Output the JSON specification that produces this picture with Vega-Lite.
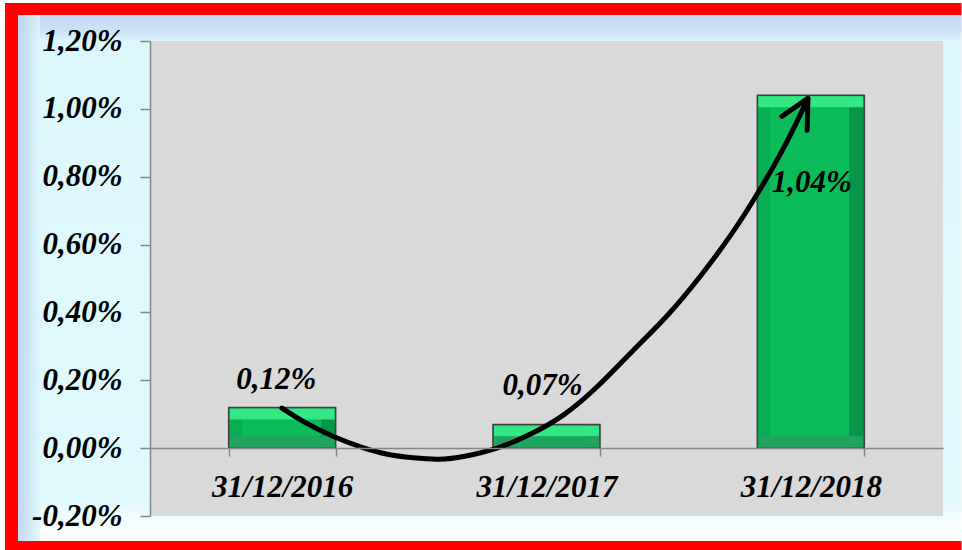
{
  "$schema": "https://vega.github.io/schema/vega-lite/v6.json",
  "width": 793,
  "height": 475,
  "autosize": {"type": "none"},
  "padding": {"left": 150, "top": 41, "right": 19, "bottom": 34},
  "background": "#ffffff",
  "config": {
    "view": {"stroke": null, "fill": null},
    "axis": {
      "labelFont": "Liberation Serif",
      "labelFontSize": 31,
      "labelFontWeight": "bold",
      "labelFontStyle": "italic",
      "labelColor": "#000000",
      "domainColor": "#868686",
      "tickColor": "#868686",
      "domainWidth": 1.5,
      "tickWidth": 1.5,
      "grid": false
    },
    "text": {"font": "Liberation Serif", "fontSize": 31, "fontWeight": "bold", "fontStyle": "italic", "color": "#000000"}
  },
  "datasets": {
    "bars": [
      {"date": "31/12/2016", "v": 0.12, "label": "0,12%"},
      {"date": "31/12/2017", "v": 0.07, "label": "0,07%"},
      {"date": "31/12/2018", "v": 1.04, "label": "1,04%"}
    ],
    "inner": [{"u": -0.4994, "u2": 3.07, "v": -0.2736, "v2": 1.2766}],
    "leftstrip": [{"u": -0.4994, "u2": -0.416, "v": -0.2736, "v2": 1.2766}],
    "leftborder": [{"u": -0.5486, "u2": -0.4994, "v": -0.300, "v2": 1.312}],
    "hborder": [
      {"side": "top", "u": -0.5486, "u2": 3.07, "v": 1.2766, "v2": 1.312},
      {"side": "bottom", "u": -0.5486, "u2": 3.07, "v": -0.300, "v2": -0.2736}
    ],
    "plot": [{"u": 0, "u2": 3, "v": -0.2, "v2": 1.2}],
    "curve": [
      {"u": 0.499, "v": 0.118},
      {"u": 0.579, "v": 0.077},
      {"u": 0.692, "v": 0.033},
      {"u": 0.806, "v": 0.000},
      {"u": 0.897, "v": -0.020},
      {"u": 0.995, "v": -0.029},
      {"u": 1.097, "v": -0.035},
      {"u": 1.184, "v": -0.026},
      {"u": 1.313, "v": -0.003},
      {"u": 1.438, "v": 0.039},
      {"u": 1.563, "v": 0.092},
      {"u": 1.691, "v": 0.177},
      {"u": 1.827, "v": 0.289},
      {"u": 1.956, "v": 0.386},
      {"u": 2.081, "v": 0.504},
      {"u": 2.206, "v": 0.634},
      {"u": 2.308, "v": 0.761},
      {"u": 2.410, "v": 0.899},
      {"u": 2.489, "v": 1.031}
    ],
    "head": [
      {"u": 2.391, "v": 0.978, "o": 1},
      {"u": 2.489, "v": 1.031, "o": 2},
      {"u": 2.486, "v": 0.937, "o": 3}
    ]
  },
  "encoding": {
    "y": {
      "field": "v",
      "type": "quantitative",
      "title": null,
      "scale": {"domain": [-0.2, 1.2], "nice": false, "zero": false},
      "axis": {
        "values": [-0.2, 0, 0.2, 0.4, 0.6, 0.8, 1.0, 1.2],
        "labelExpr": "replace(replace(format(datum.value, '.2f'), '.', ','), '\u2212', '-') + '%'",
        "tickSize": 10,
        "labelPadding": 18,
        "zindex": 2,
        "title": null
      }
    }
  },
  "layer": [
    {
      "data": {"name": "inner"},
      "mark": {
        "type": "rect",
        "clip": false,
        "fill": {
          "gradient": "linear", "x1": 0, "y1": 0, "x2": 0, "y2": 1,
          "stops": [
            {"offset": 0, "color": "#c4d9f4"},
            {"offset": 0.03, "color": "#cbe2f7"},
            {"offset": 0.05, "color": "#dcf7fc"},
            {"offset": 0.92, "color": "#e0f9fd"},
            {"offset": 0.97, "color": "#f6fdfe"},
            {"offset": 1, "color": "#ffffff"}
          ]
        }
      },
      "encoding": {
        "x": {"field": "u", "type": "quantitative", "scale": {"domain": [0, 3], "nice": false, "zero": false}, "axis": null},
        "x2": {"field": "u2"},
        "y2": {"field": "v2"}
      }
    },
    {
      "data": {"name": "leftstrip"},
      "mark": {
        "type": "rect",
        "clip": false,
        "fill": {
          "gradient": "linear", "x1": 0, "y1": 0, "x2": 1, "y2": 0,
          "stops": [
            {"offset": 0, "color": "#b9d1f0"},
            {"offset": 1, "color": "#dcf7fc"}
          ]
        },
        "opacity": 0.85
      },
      "encoding": {
        "x": {"field": "u", "type": "quantitative", "scale": {"domain": [0, 3], "nice": false, "zero": false}, "axis": null},
        "x2": {"field": "u2"},
        "y2": {"field": "v2"}
      }
    },
    {
      "data": {"name": "leftborder"},
      "mark": {"type": "rect", "clip": false, "fill": "#ff0000"},
      "encoding": {
        "x": {"field": "u", "type": "quantitative", "scale": {"domain": [0, 3], "nice": false, "zero": false}, "axis": null},
        "x2": {"field": "u2"},
        "y2": {"field": "v2"}
      }
    },
    {
      "data": {"name": "hborder"},
      "mark": {"type": "rect", "clip": false, "fill": "#ff0000"},
      "encoding": {
        "x": {"field": "u", "type": "quantitative", "scale": {"domain": [0, 3], "nice": false, "zero": false}, "axis": null},
        "x2": {"field": "u2"},
        "y2": {"field": "v2"}
      }
    },
    {
      "data": {"name": "plot"},
      "mark": {"type": "rect", "fill": "#d9d9d9"},
      "encoding": {
        "x": {"field": "u", "type": "quantitative", "scale": {"domain": [0, 3], "nice": false, "zero": false}, "axis": null},
        "x2": {"field": "u2"},
        "y2": {"field": "v2"}
      }
    },
    {
      "data": {"name": "bars"},
      "mark": {
        "type": "bar",
        "fill": {
          "gradient": "linear", "x1": 0, "y1": 0, "x2": 1, "y2": 0,
          "stops": [
            {"offset": 0, "color": "#07ad51"},
            {"offset": 0.12, "color": "#07ad51"},
            {"offset": 0.121, "color": "#0abb58"},
            {"offset": 0.86, "color": "#0abb58"},
            {"offset": 0.861, "color": "#05964a"},
            {"offset": 1, "color": "#05964a"}
          ]
        }
      },
      "encoding": {
        "x": {
          "field": "date", "type": "nominal", "title": null,
          "scale": {"paddingInner": 0.595, "paddingOuter": 0.2975},
          "axis": {"orient": "bottom", "offset": -68, "tickBand": "extent", "tickSize": 8, "labelPadding": 16, "labelAngle": 0, "zindex": 2, "title": null}
        }
      }
    },
    {
      "data": {"name": "bars"},
      "mark": {"type": "tick", "color": "#33e884", "size": 105, "thickness": 11, "yOffset": 6.5, "opacity": 1},
      "encoding": {
        "x": {"field": "date", "type": "nominal", "scale": {"domain": ["31/12/2016", "31/12/2017", "31/12/2018"], "paddingInner": 0.595, "paddingOuter": 0.2975}, "axis": null}
      }
    },
    {
      "data": {"name": "bars"},
      "mark": {"type": "tick", "color": "#1fa35f", "size": 105, "thickness": 11, "yOffset": -6.5, "opacity": 1},
      "encoding": {
        "x": {"field": "date", "type": "nominal", "scale": {"domain": ["31/12/2016", "31/12/2017", "31/12/2018"], "paddingInner": 0.595, "paddingOuter": 0.2975}, "axis": null},
        "y": {"datum": 0, "type": "quantitative"}
      }
    },
    {
      "data": {"name": "bars"},
      "mark": {"type": "bar", "fill": null, "stroke": "#404040", "strokeWidth": 1.5},
      "encoding": {
        "x": {"field": "date", "type": "nominal", "scale": {"domain": ["31/12/2016", "31/12/2017", "31/12/2018"], "paddingInner": 0.595, "paddingOuter": 0.2975}, "axis": null}
      }
    },
    {
      "data": {"name": "bars"},
      "transform": [{"filter": "datum.date == '31/12/2016'"}],
      "mark": {"type": "text", "baseline": "middle", "dy": -27, "dx": -6},
      "encoding": {
        "x": {"field": "date", "type": "nominal", "scale": {"domain": ["31/12/2016", "31/12/2017", "31/12/2018"], "paddingInner": 0.595, "paddingOuter": 0.2975}, "axis": null},
        "text": {"field": "label"}
      }
    },
    {
      "data": {"name": "bars"},
      "transform": [{"filter": "datum.date == '31/12/2017'"}],
      "mark": {"type": "text", "baseline": "middle", "dy": -38, "dx": -4},
      "encoding": {
        "x": {"field": "date", "type": "nominal", "scale": {"domain": ["31/12/2016", "31/12/2017", "31/12/2018"], "paddingInner": 0.595, "paddingOuter": 0.2975}, "axis": null},
        "text": {"field": "label"}
      }
    },
    {
      "data": {"name": "bars"},
      "transform": [{"filter": "datum.date == '31/12/2018'"}],
      "mark": {"type": "text", "baseline": "middle", "dy": 88, "dx": 1},
      "encoding": {
        "x": {"field": "date", "type": "nominal", "scale": {"domain": ["31/12/2016", "31/12/2017", "31/12/2018"], "paddingInner": 0.595, "paddingOuter": 0.2975}, "axis": null},
        "text": {"field": "label"}
      }
    },
    {
      "data": {"name": "curve"},
      "mark": {"type": "line", "color": "#000000", "strokeWidth": 5, "interpolate": "basis", "strokeCap": "round", "clip": false},
      "encoding": {
        "x": {"field": "u", "type": "quantitative", "scale": {"domain": [0, 3], "nice": false, "zero": false}, "axis": null}
      }
    },
    {
      "data": {"name": "head"},
      "mark": {"type": "line", "color": "#000000", "strokeWidth": 5, "strokeCap": "round", "strokeJoin": "round", "clip": false},
      "encoding": {
        "x": {"field": "u", "type": "quantitative", "scale": {"domain": [0, 3], "nice": false, "zero": false}, "axis": null},
        "order": {"field": "o", "type": "quantitative"}
      }
    }
  ],
  "resolve": {"scale": {"x": "independent"}, "axis": {"x": "independent"}}
}
